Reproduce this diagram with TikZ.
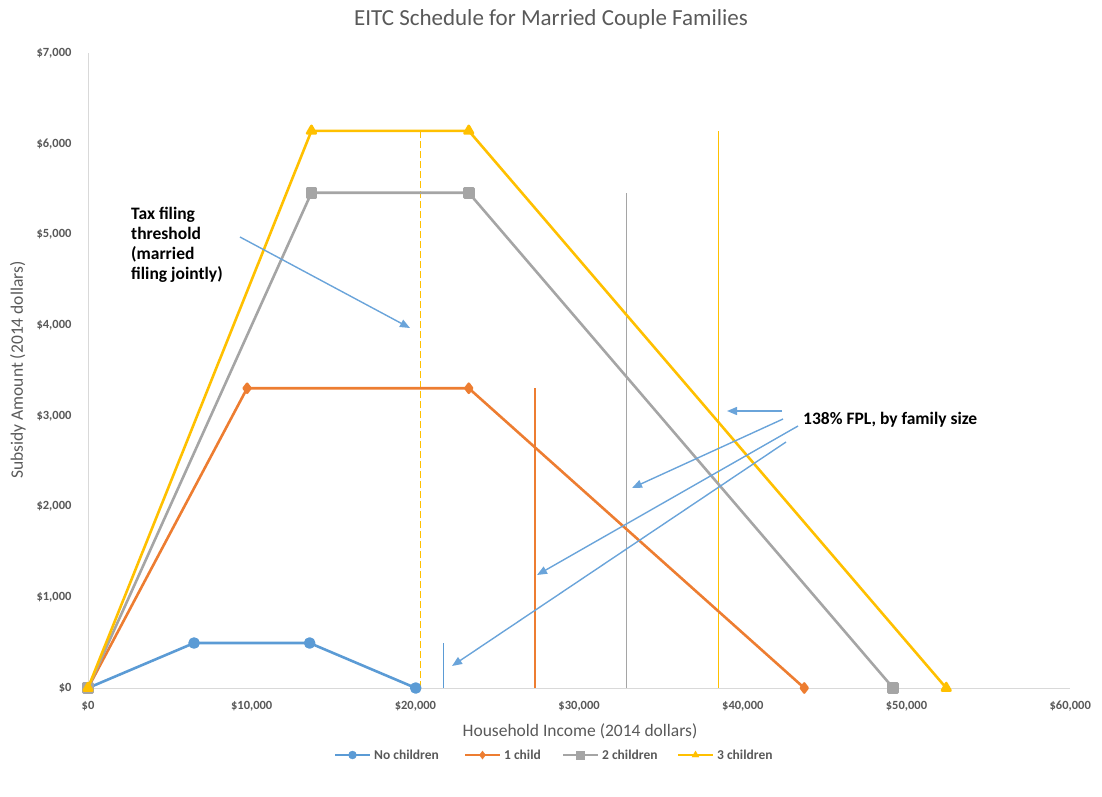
\documentclass[tikz,border=0pt]{standalone}
\usepackage{fontspec}
\setmainfont{Carlito}
\usepackage{xcolor}
\usetikzlibrary{arrows.meta, positioning, plotmarks}

\definecolor{xlblue}{HTML}{5B9BD5}
\definecolor{xlorange}{HTML}{ED7D31}
\definecolor{xlgray}{HTML}{A5A5A5}
\definecolor{xlyellow}{HTML}{FFC000}
\definecolor{txtgray}{HTML}{595959}
\definecolor{axisgray}{HTML}{D9D9D9}
\definecolor{callout}{HTML}{6AA4DA}

\begin{document}
\begin{tikzpicture}[
			x=1pt, y=-1pt,
			every node/.style={inner sep=0pt, text=txtgray},
			ticklabel/.style={font=\fontsize{12.5}{14}\selectfont\bfseries},
			axistitle/.style={font=\fontsize{17.5}{20}\selectfont},
			legendtext/.style={anchor=west, font=\fontsize{13.5}{15}\selectfont\bfseries},
			note/.style={text=black, align=left, font=\fontsize{17.5}{20}\selectfont\bfseries},
			series/.style={line width=2.6pt, line join=round},
			fplline/.style={line width=1.3pt},
			pointer/.style={-{Triangle[length=10pt, width=8pt]}, callout, line width=1.4pt}
			]
			\useasboundingbox (0,0) rectangle (1102,796);
			
			% Titles
			\node (title) [font=\fontsize{23}{26}\selectfont] at (551,19) {EITC Schedule for Married Couple Families};
			\node (xtitle) [axistitle] at (580,731) {Household Income (2014 dollars)};
			\node (ytitle) [axistitle, rotate=90] at (18,370) {Subsidy Amount (2014 dollars)};
			
			% Plot area, in thousands of dollars
			\begin{scope}[shift={(88,688)}, x=16.37pt, y=90.7pt]
				\draw [axisgray, line width=1pt] (0,0) -- (60,0);
				\draw [axisgray, line width=0.8pt] (0,0) -- (0,7);
				\foreach \v/\lab in {0/\$0, 1/\$1{,}000, 2/\$2{,}000, 3/\$3{,}000, 4/\$4{,}000, 5/\$5{,}000, 6/\$6{,}000, 7/\$7{,}000}
					\node [ticklabel, anchor=east] at (-1,\v) {\lab};
				\foreach \v/\lab in {0/\$0, 10/\$10{,}000, 20/\$20{,}000, 30/\$30{,}000, 40/\$40{,}000, 50/\$50{,}000, 60/\$60{,}000}
					\node [ticklabel] at (\v,-0.2) {\lab};
				
				% Threshold lines
				\coordinate (taxtop) at (20.3,6.143);
				\coordinate (taxbot) at (20.3,0);
				\draw [xlyellow, line width=1.2pt, dash pattern=on 7pt off 3pt] (taxbot) -- (taxtop);
				\draw [fplline, draw=xlblue] (21.707,0) -- (21.707,0.496);
				\draw [fplline, draw=xlorange] (27.31,0) -- (27.31,3.305);
				\draw [fplline, draw=xlgray] (32.913,0) -- (32.913,5.46);
				\draw [fplline, draw=xlyellow] (38.516,0) -- (38.516,6.143);
				
				% Series
				\draw [series, xlblue] plot [mark=*, mark size=4.5pt, mark options={fill=xlblue, draw=xlblue}]
					coordinates {(0,0) (6.48,0.496) (13.54,0.496) (20.02,0)};
				\draw [series, xlorange] plot [mark=diamond*, mark size=4.5pt, mark options={fill=xlorange, draw=xlorange}]
					coordinates {(0,0) (9.72,3.305) (23.26,3.305) (43.756,0)};
				\draw [series, xlgray] plot [mark=square*, mark size=4.5pt, mark options={fill=xlgray, draw=xlgray}]
					coordinates {(0,0) (13.65,5.46) (23.26,5.46) (49.186,0)};
				\draw [series, xlyellow] plot [mark=triangle*, mark size=5pt, mark options={fill=xlyellow, draw=xlyellow}]
					coordinates {(0,0) (13.65,6.143) (23.26,6.143) (52.427,0)};
			\end{scope}
			
			% Notes
			\node (taxnote) [note, anchor=north west] at (131,207) {Tax filing\\threshold\\(married\\filing jointly)};
			\node (fplnote) [note, anchor=west] at (803,420) {138\% FPL, by family size};
			
			% Pointer ends
			\coordinate (taxtail) at (240,237);
			\coordinate (taxhead) at (410,328);
			\coordinate (fpltail5) at (782,411);
			\coordinate (fplhead5) at (727,411);
			\coordinate (fpltail4) at (783,419);
			\coordinate (fplhead4) at (632,488);
			\coordinate (fpltail3) at (798,426);
			\coordinate (fplhead3) at (537,575);
			\coordinate (fpltail2) at (786,442);
			\coordinate (fplhead2) at (452,666);
			
			% Connections
			\draw [pointer] (taxtail) -- (taxhead);
			\draw [pointer] (fpltail5) -- (fplhead5);
			\draw [pointer] (fpltail4) -- (fplhead4);
			\draw [pointer] (fpltail3) -- (fplhead3);
			\draw [pointer] (fpltail2) -- (fplhead2);
			
			% Legend
			\foreach \c/\m/\x/\lab in {xlblue/*/335/No children, xlorange/diamond*/465/1 child, xlgray/square*/563/2 children, xlyellow/triangle*/678/3 children}{
				\draw [series, \c] (\x,755) -- ++(35,0);
				\path plot [mark=\m, mark size=4pt, mark options={fill=\c, draw=\c}] coordinates {(\x+17.5,755)};
				\node [legendtext] at (\x+39,755) {\lab};
			}
			
		\end{tikzpicture}
\end{document}
